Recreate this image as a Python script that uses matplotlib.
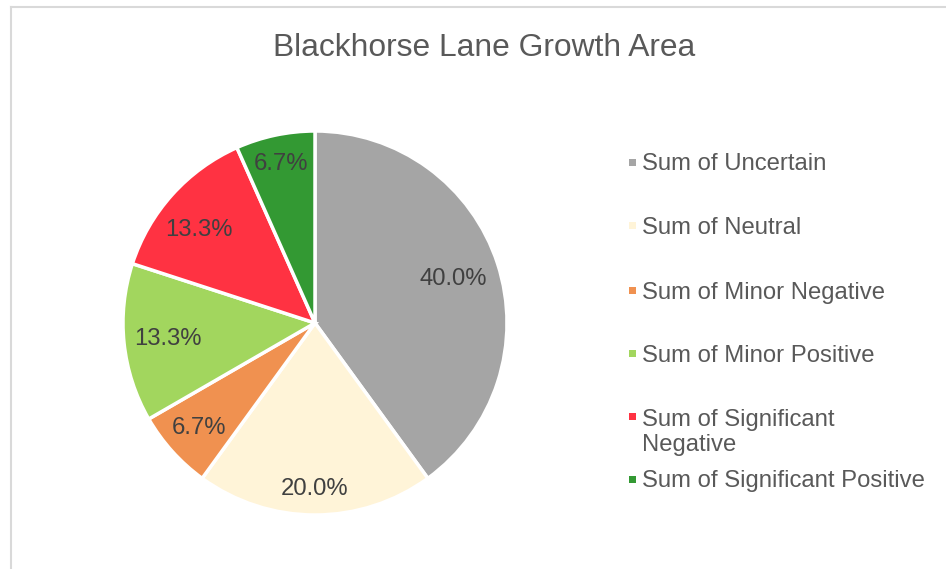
import matplotlib
matplotlib.use("Agg")
import matplotlib.pyplot as plt
import numpy as np
from matplotlib.patches import Rectangle
from matplotlib.lines import Line2D

plt.rcParams['font.family'] = ['Liberation Sans', 'DejaVu Sans']

title = "Blackhorse Lane Growth Area"
categories = ["Sum of Uncertain", "Sum of Neutral", "Sum of Minor Negative",
              "Sum of Minor Positive", "Sum of Significant\nNegative",
              "Sum of Significant Positive"]
values = [6, 3, 1, 2, 2, 1]
colors = ["#A5A5A5", "#FFF4D8", "#F09150", "#A2D65E", "#FF3242", "#339933"]
label_dist = [0.755, 0.86, 0.81, 0.77, 0.78, 0.85]
label_ang_shift = [0, 0, 0, 0, 3, 0]

W, H = 946, 569
fig = plt.figure(figsize=(W / 100, H / 100), dpi=100)

# chart border (top and left visible)
fig.add_artist(Line2D([11 / W, 11 / W], [0, 1 - 7 / H], color="#D9D9D9", lw=1.5))
fig.add_artist(Line2D([11 / W, 1], [1 - 7 / H, 1 - 7 / H], color="#D9D9D9", lw=1.5))

cx, cy, r = 315, 323, 192
ax = fig.add_axes([(cx - r) / W, (H - cy - r) / H, 2 * r / W, 2 * r / H])
wedges, texts, autotexts = ax.pie(
    values, colors=colors, startangle=90, counterclock=False, radius=1,
    autopct="%1.1f%%", pctdistance=0.8,
    wedgeprops=dict(edgecolor="white", linewidth=2.5),
    textprops=dict(color="#404040", fontsize=17.2))
ax.set_xlim(-1, 1)
ax.set_ylim(-1, 1)
ax.set_aspect("equal")
ax.axis("off")

dy = 0.8 / r
for w, t, d, s in zip(wedges, autotexts, label_dist, label_ang_shift):
    ang = np.deg2rad((w.theta1 + w.theta2) / 2 + s)
    t.set_position((d * np.cos(ang), d * np.sin(ang) - dy))

fig.text(484 / W, 1 - 47.5 / H, title, ha="center", va="center",
         fontsize=22.9, color="#595959")

leg_y = [164.5, 228.5, 292.5, 355.5, 432.5, 481.5]
for lab, col, y in zip(categories, colors, leg_y):
    first_y = (y - 2.5) if "\n" not in lab else 416
    fig.add_artist(Rectangle((629 / W, 1 - (first_y + 3.5) / H), 7 / W, 7 / H,
                             facecolor=col, edgecolor="none"))
    fig.text(642 / W, 1 - y / H, lab, ha="left", va="center",
             fontsize=17.2, color="#595959", linespacing=1.2)

fig.savefig("out.png", dpi=100)
